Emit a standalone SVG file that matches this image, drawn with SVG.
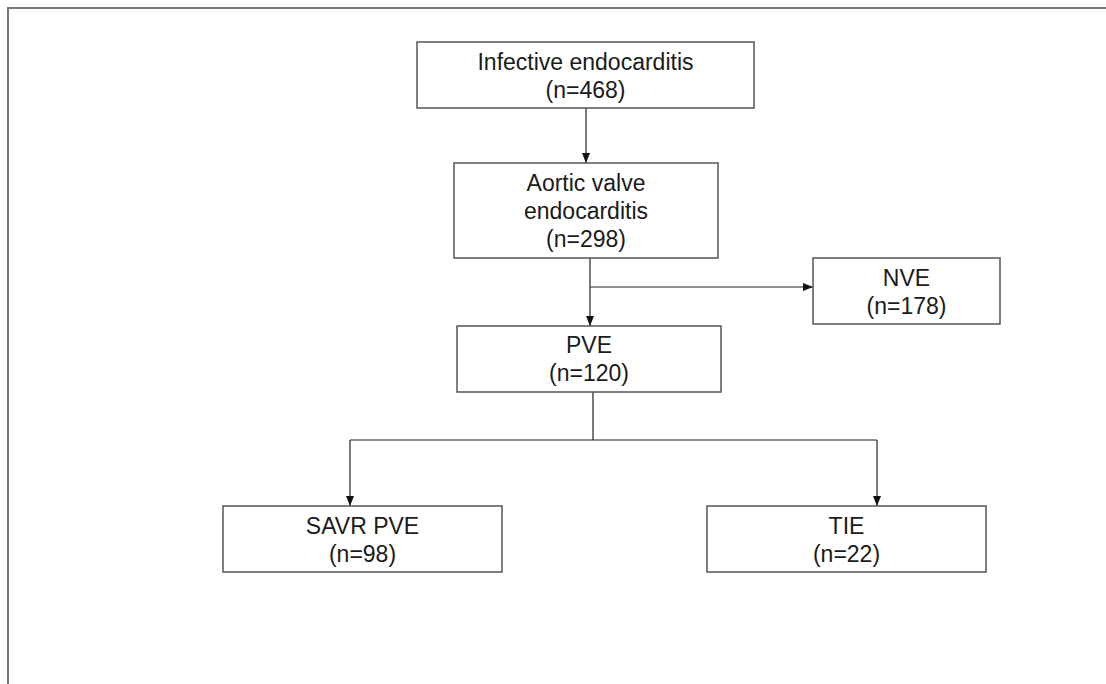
<svg xmlns="http://www.w3.org/2000/svg" width="1106" height="684" viewBox="0 0 1106 684">
<style>
.box{fill:#fff;stroke:#555;stroke-width:1.5}
.t{font-family:"Liberation Sans",Arial,sans-serif;font-size:23px;fill:#1a1a1a;text-anchor:middle}
.c{fill:none;stroke:#222;stroke-width:1.2}
.frame{fill:none;stroke:#777;stroke-width:2}
</style>
<defs>
<marker id="ah" markerUnits="userSpaceOnUse" markerWidth="10" markerHeight="10" viewBox="0 0 10 10" refX="10" refY="5" orient="auto">
<path d="M0,1 L10,5 L0,9 Z" fill="#111"/>
</marker>
</defs>
<rect width="1106" height="684" fill="#fff"/>
<path class="frame" d="M8,684 V8 H1106"/>
<g id="connectors">
<path class="c" d="M586,108 V163" marker-end="url(#ah)"/>
<path class="c" d="M590,258 V326" marker-end="url(#ah)"/>
<path class="c" d="M590,287 H813" marker-end="url(#ah)"/>
<path class="c" d="M593,392 V440 M350,440 H877"/>
<path class="c" d="M350,440 V506" marker-end="url(#ah)"/>
<path class="c" d="M877,440 V506" marker-end="url(#ah)"/>
</g>
<g id="n_ie">
<rect class="box" x="417" y="42" width="337" height="66"/>
<text class="t" x="585.5" y="70">Infective endocarditis</text>
<text class="t" x="585.5" y="98">(n=468)</text>
</g>
<g id="n_ave">
<rect class="box" x="454" y="163" width="264" height="95"/>
<text class="t" x="586" y="191">Aortic valve</text>
<text class="t" x="586" y="219">endocarditis</text>
<text class="t" x="586" y="247">(n=298)</text>
</g>
<g id="n_nve">
<rect class="box" x="813" y="258" width="187" height="66"/>
<text class="t" x="906.5" y="286">NVE</text>
<text class="t" x="906.5" y="314">(n=178)</text>
</g>
<g id="n_pve">
<rect class="box" x="457" y="326" width="264" height="66"/>
<text class="t" x="589" y="353">PVE</text>
<text class="t" x="589" y="381">(n=120)</text>
</g>
<g id="n_savr">
<rect class="box" x="223" y="506" width="279" height="66"/>
<text class="t" x="362.5" y="534">SAVR PVE</text>
<text class="t" x="362.5" y="562">(n=98)</text>
</g>
<g id="n_tie">
<rect class="box" x="707" y="506" width="279" height="66"/>
<text class="t" x="846.5" y="534">TIE</text>
<text class="t" x="846.5" y="562">(n=22)</text>
</g>
</svg>
